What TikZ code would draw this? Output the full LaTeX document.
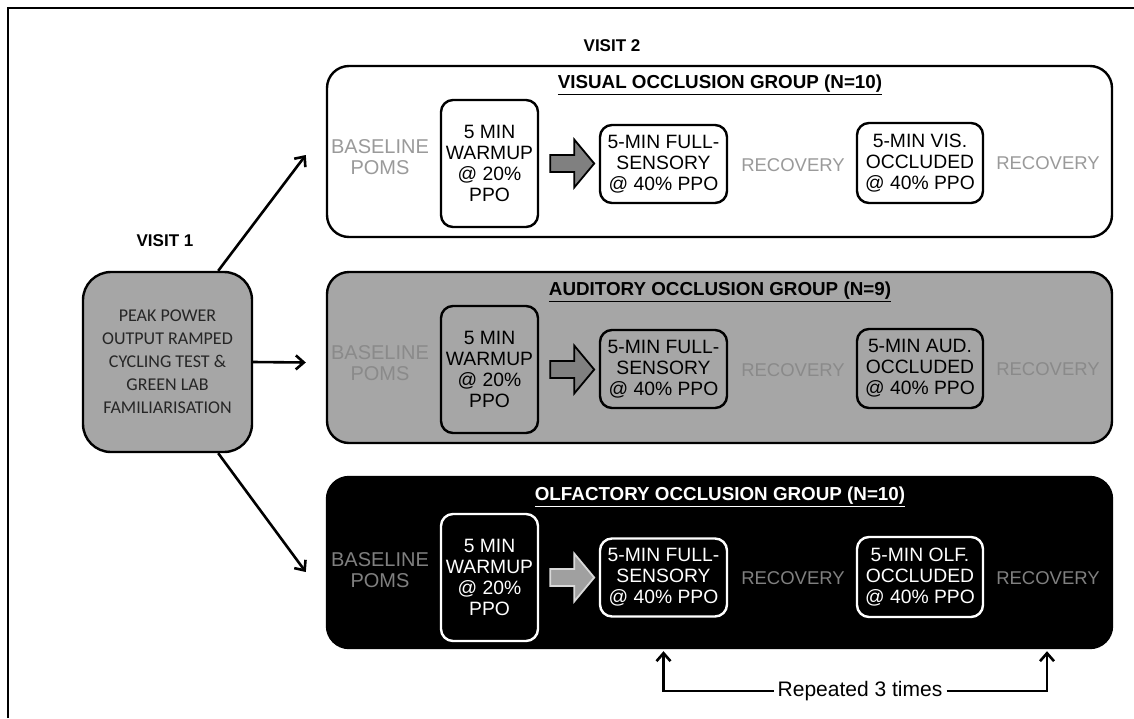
\documentclass[tikz,border=0pt]{standalone}
\usepackage{fontspec}
\setmainfont{Liberation Sans}
\newfontfamily\calfont{Carlito}
\usetikzlibrary{arrows.meta,calc}
\definecolor{grpgray}{HTML}{A6A6A6}
\definecolor{txtlight}{HTML}{9A9A9A}
\definecolor{txtmid}{HTML}{8A8A8A}
\definecolor{txtdark}{HTML}{808080}
\definecolor{arrgray}{HTML}{808080}
\definecolor{arrlight}{HTML}{A0A0A0}
\definecolor{caltext}{HTML}{262626}
\begin{document}
\begin{tikzpicture}[x=1pt,y=-1pt,
  grp/.style={draw, rounded corners=22pt, line width=2.4pt, minimum width=785pt, minimum height=171pt},
  inbox/.style={draw, rounded corners=12pt, line width=2.4pt, align=center, inner sep=0pt, font=\fontsize{19.3}{21}\selectfont},
  lbl/.style={align=center, font=\fontsize{18.5}{21}\selectfont},
  base/.style={align=center, font=\fontsize{20}{21}\selectfont},
  ttl/.style={font=\bfseries\fontsize{18.8}{21}\selectfont},
  visit/.style={font=\bfseries\fontsize{17}{20}\selectfont},
  conn/.style={line width=2.6pt, -{Straight Barb[length=8pt,width=14pt,line width=2.6pt]}},
  bigarrow/.style={line width=1.8pt, line join=miter}
]
\useasboundingbox (0,0) rectangle (1134,718);
\fill[white] (0,0) rectangle (1134,718);
\draw[line width=2.8pt] (8,718) -- (8,8) -- (1134,8);

\node[visit] (v2lbl) at (612,46) {VISIT 2};
\node[visit] (v1lbl) at (165,241) {VISIT 1};

% Visit 1 box
\node[draw, fill=grpgray, line width=2.4pt, rounded corners=28pt, minimum width=169pt, minimum height=180pt,
  align=center, text=caltext, font=\calfont\fontsize{18}{23}\selectfont] (v1) at (167.5,362)
  {PEAK POWER\\OUTPUT RAMPED\\CYCLING TEST \&\\GREEN LAB\\FAMILIARISATION};

% Group boxes
\node[grp, fill=white] (vis) at (719.5,151.5) {};
\node[grp, fill=grpgray] (aud) at (719.5,357.5) {};
\node[grp, fill=black] (olf) at (719.5,562.5) {};

% Visual group
\node[ttl] (visT) at (720,85) {\underline{VISUAL OCCLUSION GROUP (N=10)}};
\node[base, text=txtlight] (visB) at (380,157) {BASELINE\\POMS};
\node[inbox, minimum width=97pt, minimum height=127pt] (visW) at (489.5,163.5) {5 MIN\\WARMUP\\@ 20\%\\PPO};
\node[inbox, minimum width=127pt, minimum height=78pt] (visF) at (663.5,164) {5-MIN FULL-\\SENSORY\\@ 40\% PPO};
\node[lbl, text=txtlight] (visR1) at (793,165) {RECOVERY};
\node[inbox, minimum width=126pt, minimum height=80pt] (visO) at (920,163) {5-MIN VIS.\\OCCLUDED\\@ 40\% PPO};
\node[lbl, text=txtlight] (visR2) at (1048,163) {RECOVERY};
\draw[bigarrow, fill=arrgray] ($(visW.east)+(11,-8.5)$) -- ++(24,0) -- ++(0,-15.5) -- ++(20,24) -- ++(-20,24) -- ++(0,-15.5) -- ++(-24,0) -- cycle;

% Auditory group
\node[ttl] (audT) at (720,292) {\underline{AUDITORY OCCLUSION GROUP (N=9)}};
\node[base, text=txtmid] (audB) at (380,363) {BASELINE\\POMS};
\node[inbox, minimum width=97pt, minimum height=127pt] (audW) at (489.5,369.5) {5 MIN\\WARMUP\\@ 20\%\\PPO};
\node[inbox, minimum width=127pt, minimum height=78pt] (audF) at (663.5,369) {5-MIN FULL-\\SENSORY\\@ 40\% PPO};
\node[lbl, text=txtmid] (audR1) at (793,370) {RECOVERY};
\node[inbox, minimum width=126pt, minimum height=79pt] (audO) at (920,368.5) {5-MIN AUD.\\OCCLUDED\\@ 40\% PPO};
\node[lbl, text=txtmid] (audR2) at (1048,369) {RECOVERY};
\draw[bigarrow, fill=arrgray] ($(audW.east)+(11,-8.5)$) -- ++(24,0) -- ++(0,-15.5) -- ++(20,24) -- ++(-20,24) -- ++(0,-15.5) -- ++(-24,0) -- cycle;

% Olfactory group
\node[ttl, text=white] (olfT) at (720,497) {\underline{OLFACTORY OCCLUSION GROUP (N=10)}};
\node[base, text=txtdark] (olfB) at (380,570) {BASELINE\\POMS};
\node[inbox, draw=white, text=white, minimum width=97pt, minimum height=127pt] (olfW) at (489.5,577.5) {5 MIN\\WARMUP\\@ 20\%\\PPO};
\node[inbox, draw=white, text=white, minimum width=127pt, minimum height=78pt] (olfF) at (663.5,577.5) {5-MIN FULL-\\SENSORY\\@ 40\% PPO};
\node[lbl, text=txtdark] (olfR1) at (793,578) {RECOVERY};
\node[inbox, draw=white, text=white, minimum width=126pt, minimum height=80pt] (olfO) at (920,577) {5-MIN OLF.\\OCCLUDED\\@ 40\% PPO};
\node[lbl, text=txtdark] (olfR2) at (1048,578) {RECOVERY};
\draw[bigarrow, draw=white!85!black, fill=arrlight] ($(olfW.east)+(11,-8.5)$) -- ++(24,0) -- ++(0,-15.5) -- ++(20,24) -- ++(-20,24) -- ++(0,-15.5) -- ++(-24,0) -- cycle;

% Visit 1 connectors
\draw[conn] ($(v1.north east)+(-35,0)$) -- ($(vis.west)+(-20,3.5)$);
\draw[conn] (v1.east) -- ($(aud.west)+(-20,5)$);
\draw[conn] ($(v1.south east)+(-35,0)$) -- ($(olf.west)+(-20,9.5)$);

% Repeated 3 times
\node[font=\fontsize{21}{24}\selectfont, inner sep=4pt] (rep) at (860,691) {Repeated 3 times};
\coordinate (repL) at (olfF.south |- olf.south);
\coordinate (repR) at (olfR2.south |- olf.south);
\draw[conn] (rep.west) -| ($(repL)+(0,2)$);
\draw[conn] (rep.east) -| ($(repR)+(-1,2)$);
\end{tikzpicture}
\end{document}
